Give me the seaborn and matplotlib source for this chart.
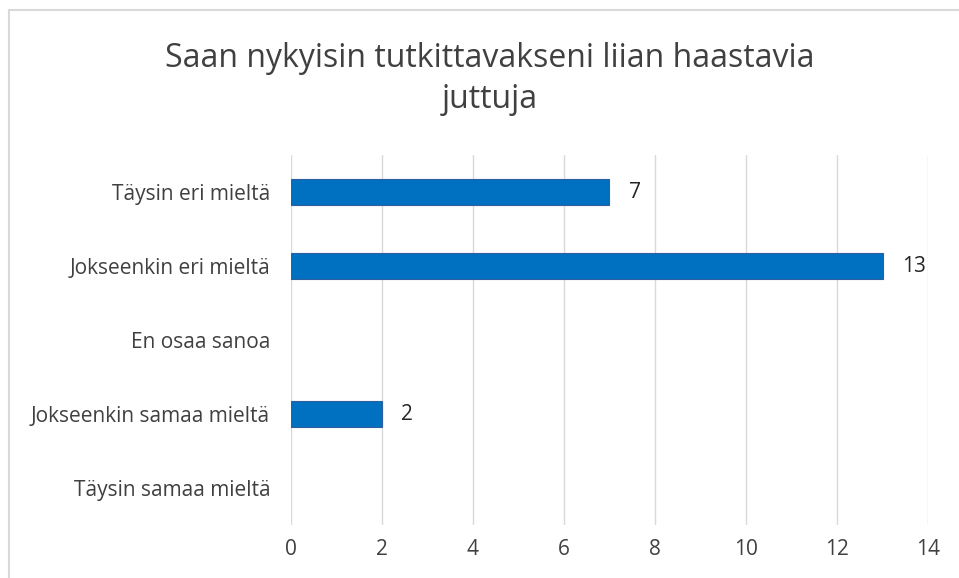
import pandas as pd
import matplotlib.pyplot as plt
import seaborn as sns
from matplotlib.lines import Line2D

categories = ['Täysin eri mieltä', 'Jokseenkin eri mieltä', 'En osaa sanoa',
              'Jokseenkin samaa mieltä', 'Täysin samaa mieltä']
counts = [7, 13, 0, 2, 0]
x_ticks = [0, 2, 4, 6, 8, 10, 12, 14]
title = 'Saan nykyisin tutkittavakseni liian haastavia\njuttuja'

df = pd.DataFrame({'vastaus': categories, 'lkm': counts})

sns.set_style('white')
plt.rcParams['font.family'] = ['Open Sans', 'DejaVu Sans']

fig = plt.figure(figsize=(9.59, 5.78), dpi=100)
ax = fig.add_axes([0.3034, 0.0917, 0.6643, 0.6401])

sns.barplot(data=df, x='lkm', y='vastaus', orient='h', color='#0070c0',
            saturation=1, width=0.35, edgecolor='#2f5f9f', linewidth=0.8, ax=ax)

# no outline for empty categories
for patch, value in zip(ax.patches, counts):
    if value == 0:
        patch.set_linewidth(0)

for i, value in enumerate(counts):
    if value > 0:
        ax.text(value + 0.42, i, str(value), va='center', ha='left',
                fontsize=15, color='#262626')

ax.set_xlim(0, 14)
ax.set_xticks(x_ticks)
ax.set_xticklabels([str(t) for t in x_ticks], fontsize=15, color='#404040')
ax.set_yticklabels(categories, fontsize=15, color='#404040')
ax.set_xlabel('')
ax.set_ylabel('')
ax.tick_params(axis='y', length=0, pad=15)
ax.tick_params(axis='x', length=0, pad=10)
ax.grid(axis='x', color='#d9d9d9', linewidth=1)
ax.set_axisbelow(True)
for side in ['top', 'right', 'bottom', 'left']:
    ax.spines[side].set_visible(False)

fig.text(0.511, 0.863, title, ha='center', va='center', fontsize=23,
         color='#404040', linespacing=1.32)

# chart area border (top and left edges visible in the reference)
fig.add_artist(Line2D([9 / 959, 1.0], [1 - 10 / 578, 1 - 10 / 578],
                      color='#d9d9d9', linewidth=1.5, transform=fig.transFigure))
fig.add_artist(Line2D([9 / 959, 9 / 959], [0.0, 1 - 10 / 578],
                      color='#d9d9d9', linewidth=1.5, transform=fig.transFigure))

fig.savefig('out.png', dpi=100, facecolor='white')
